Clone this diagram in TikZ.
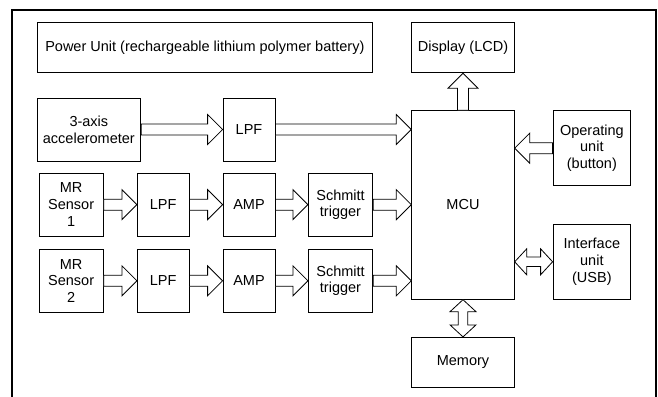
\documentclass[tikz,border=0pt]{standalone}
\usepackage{fontspec}
\setmainfont{Liberation Sans}
\usetikzlibrary{calc}
\tikzset{
  box/.style={draw, line width=0.8pt, align=center, inner sep=0pt,
    font=\fontsize{14.5}{16.7}\selectfont},
  blk/.style={draw, line width=0.8pt, fill=white, line join=miter},
  frame/.style={line width=2pt},
}
\newcommand\blkarrow[2]{%
  \coordinate (ba-a) at (#1);
  \coordinate (ba-b) at (#2);
  \coordinate (ba-c) at ($(ba-b)!15pt!(ba-a)$);
  \draw[blk] ($(ba-a)!5.5pt!90:(ba-b)$) -- ($(ba-c)!5.5pt!90:(ba-b)$) --
    ($(ba-c)!15pt!90:(ba-b)$) -- (ba-b) -- ($(ba-c)!15pt!-90:(ba-b)$) --
    ($(ba-c)!5.5pt!-90:(ba-b)$) -- ($(ba-a)!5.5pt!-90:(ba-b)$) -- cycle;}
\newcommand\dblarrow[2]{%
  \coordinate (da-a) at (#1);
  \coordinate (da-b) at (#2);
  \coordinate (da-c) at ($(da-a)!12pt!(da-b)$);
  \coordinate (da-d) at ($(da-b)!12pt!(da-a)$);
  \draw[blk] (da-a) -- ($(da-c)!13pt!90:(da-b)$) -- ($(da-c)!4.75pt!90:(da-b)$) --
    ($(da-d)!4.75pt!-90:(da-a)$) -- ($(da-d)!13pt!-90:(da-a)$) -- (da-b) --
    ($(da-d)!13pt!90:(da-a)$) -- ($(da-d)!4.75pt!90:(da-a)$) --
    ($(da-c)!4.75pt!-90:(da-b)$) -- ($(da-c)!13pt!-90:(da-b)$) -- cycle;}
\begin{document}
\begin{tikzpicture}[x=1pt,y=-1pt]
\useasboundingbox (0,0) rectangle (658,396);
\draw[frame] (12,402) -- (12,10) -- (655.5,10) -- (655.5,402);

\node[box, minimum width=335.7pt, minimum height=50.5pt] (pow) at (204.85,47.6) {Power Unit (rechargeable lithium polymer battery)};
\node[box, minimum width=102.6pt, minimum height=50.5pt] (disp) at (463,47.6) {Display (LCD)};
\node[box, minimum width=103.7pt, minimum height=63pt] (acc) at (88.85,129.5) {3-axis\\accelerometer};
\node[box, minimum width=52pt, minimum height=63pt] (lpf0) at (249,129.5) {LPF};
\node[box, minimum width=102.6pt, minimum height=188.6pt] (mcu) at (463,205) {MCU};
\node[box, minimum width=77.7pt, minimum height=75pt] (op) at (591.85,148.2) {Operating\\unit\\(button)};

\node[box, minimum width=64.3pt, minimum height=62.7pt] (mr1) at (71.15,204.65) {MR\\Sensor\\1};
\node[box, minimum width=51.7pt, minimum height=62.7pt] (lpf1) at (163.15,204.65) {LPF};
\node[box, minimum width=52pt, minimum height=62.7pt] (amp1) at (249,204.65) {AMP};
\node[box, minimum width=64.4pt, minimum height=62.7pt] (sch1) at (340.5,204.65) {Schmitt\\trigger};

\node[box, minimum width=64.3pt, minimum height=63pt] (mr2) at (71.15,280.8) {MR\\Sensor\\2};
\node[box, minimum width=51.7pt, minimum height=63pt] (lpf2) at (163.15,280.8) {LPF};
\node[box, minimum width=52pt, minimum height=63pt] (amp2) at (249,280.8) {AMP};
\node[box, minimum width=64.4pt, minimum height=63pt] (sch2) at (340.5,280.8) {Schmitt\\trigger};

\node[box, minimum width=77.7pt, minimum height=75pt] (ifc) at (591.85,261.8) {Interface\\unit\\(USB)};
\node[box, minimum width=102.6pt, minimum height=50.4pt] (mem) at (463,362.5) {Memory};

\blkarrow{acc.east}{lpf0.west}
\blkarrow{lpf0.east}{lpf0.east -| mcu.west}
\blkarrow{mr1.east}{lpf1.west}
\blkarrow{lpf1.east}{amp1.west}
\blkarrow{amp1.east}{sch1.west}
\blkarrow{sch1.east}{sch1.east -| mcu.west}
\blkarrow{mr2.east}{lpf2.west}
\blkarrow{lpf2.east}{amp2.west}
\blkarrow{amp2.east}{sch2.west}
\blkarrow{sch2.east}{sch2.east -| mcu.west}
\blkarrow{mcu.north}{disp.south}
\blkarrow{op.west}{op.west -| mcu.east}
\dblarrow{ifc.west -| mcu.east}{ifc.west}
\dblarrow{mcu.south}{mem.north}
\end{tikzpicture}
\end{document}
